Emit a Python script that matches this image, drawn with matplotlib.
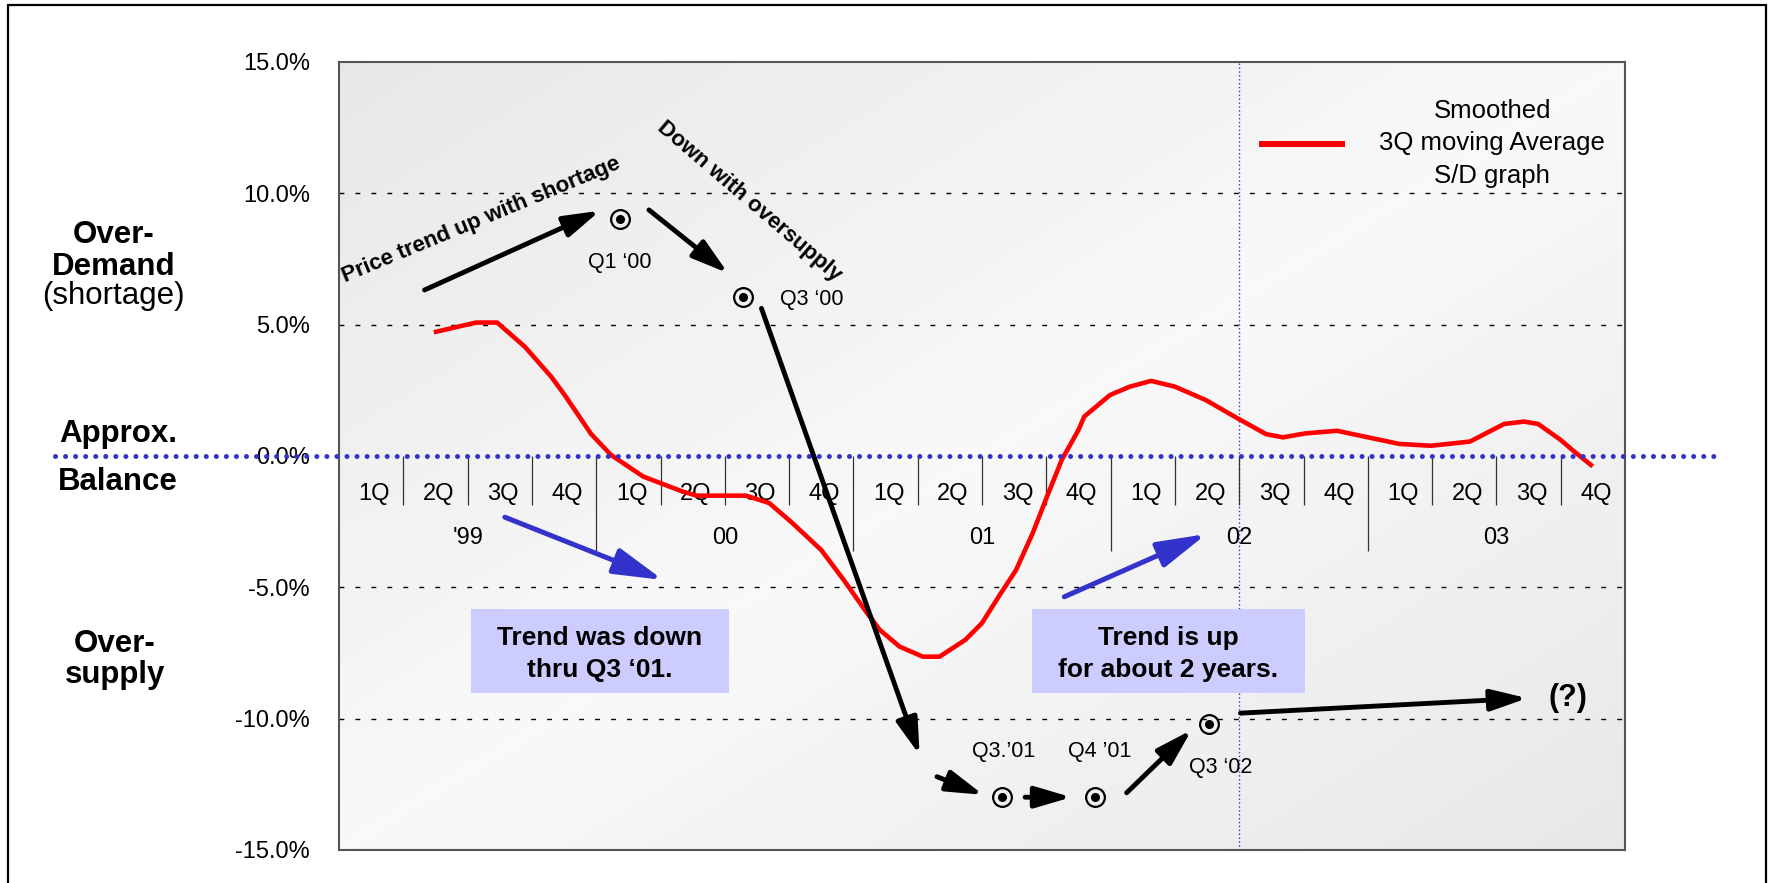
import numpy as np
import matplotlib
matplotlib.use("Agg")
import matplotlib.pyplot as plt
from matplotlib.patches import FancyArrowPatch, Rectangle
from matplotlib.lines import Line2D

plt.rcParams['font.family'] = ['Liberation Sans', 'DejaVu Sans']
NARROW = ['Liberation Sans Narrow', 'Liberation Sans', 'DejaVu Sans']

# smoothed 3Q moving average of the S/D balance (x in quarters from 1Q '99, y in %)
sd_x = [1.51, 2.13, 2.46, 2.89, 3.30, 3.51, 3.92, 4.23, 4.73, 5.35,
        5.57, 6.33, 6.69, 7.05, 7.50, 7.85, 8.21, 8.41, 8.72, 9.08,
        9.34, 9.74, 10.00, 10.26, 10.53, 10.79, 11.01, 11.24, 11.50, 11.59,
        11.99, 12.30, 12.63, 13.00, 13.48, 13.97, 14.42, 14.68, 15.03, 15.52,
        15.83, 16.49, 16.98, 17.59, 18.12, 18.43, 18.65, 19.00, 19.18, 19.47]
sd_y = [4.73, 5.08, 5.08, 4.16, 3.02, 2.32, 0.84, 0.04, -0.78, -1.36,
        -1.51, -1.51, -1.79, -2.55, -3.58, -4.72, -5.97, -6.62, -7.26, -7.64,
        -7.64, -7.00, -6.36, -5.35, -4.34, -2.93, -1.55, -0.15, 0.99, 1.50,
        2.32, 2.64, 2.86, 2.64, 2.13, 1.44, 0.83, 0.71, 0.86, 0.96,
        0.80, 0.46, 0.39, 0.55, 1.22, 1.31, 1.22, 0.61, 0.23, -0.34]

quarters = ['1Q', '2Q', '3Q', '4Q'] * 5
years = ["'99", "00", "01", "02", "03"]
y_ticks = [15, 10, 5, 0, -5, -10, -15]

# turning points of the price cycle
pt_x = [4.37, 6.29, 10.31, 11.76, 13.53]
pt_y = [9.02, 6.04, -13.0, -13.0, -10.2]
pt_labels = ["Q1 \u201800", "Q3 \u201800", "Q3.\u201901", "Q4 \u201901", "Q3 \u201802"]
pt_offsets = [(0, -35), (26, -5.5), (1, 29), (3, 29), (8.5, -35)]
pt_align = ['center', 'left', 'center', 'center', 'center']

black_arrows = [((1.33, 6.32), (4.06, 9.34)),
                ((4.82, 9.37), (6.05, 6.96)),
                ((6.57, 5.62), (9.03, -11.38)),
                ((9.30, -12.21), (10.02, -12.90)),
                ((10.67, -12.99), (11.39, -12.99)),
                ((12.25, -12.82), (13.26, -10.43)),
                ((14.02, -9.79), (18.48, -9.22))]
blue_arrows = [((2.58, -2.33), (5.04, -4.72)),
               ((11.28, -5.36), (13.49, -2.97))]

W, H = 1770, 883


def fx(px):
    return px / W


def fy(py):
    return 1 - py / H


fig = plt.figure(figsize=(17.7, 8.83), dpi=100)
ax = fig.add_axes([fx(339), fy(850), (1625 - 339) / W, (850 - 62) / H])
ax.set_xlim(0, 20)
ax.set_ylim(-15, 15)

# diagonal grey gradient behind the plot
u = np.linspace(0, 1, 400)[None, :]
v = np.linspace(0, 1, 250)[:, None]
t = (u + v) / 2
shade = 0.905 + 0.068 * (1 - np.abs(2 * t - 1))
ax.imshow(shade, cmap='gray', vmin=0, vmax=1, extent=[0, 20, -15, 15],
          aspect='auto', origin='upper', zorder=0, interpolation='bilinear')

for s in ax.spines.values():
    s.set_color('#555555')
    s.set_linewidth(1.5)

ax.hlines([10, 5, -5, -10], 0, 20, colors='black', linestyles=(0, (3.5, 8)), lw=1.0, zorder=1)
ax.axvline(14, color='#3333cc', lw=1.0, ls=(0, (1, 1.8)), zorder=1)

# quarter / year category axis hanging from the balance line
bounds = np.arange(1, 20)
ax.vlines([b for b in bounds if b % 4], -1.87, 0, colors='#333333', lw=0.9, zorder=1)
ax.vlines([b for b in bounds if b % 4 == 0], -3.63, 0, colors='#333333', lw=0.9, zorder=1)
for i, q in enumerate(quarters):
    ax.text(i + 0.55, -1.44, q, ha='center', va='center', fontsize=17, family=NARROW)
for i, yr in enumerate(years):
    ax.text(4 * i + 2, -3.13, yr, ha='center', va='center', fontsize=17, family=NARROW)

ax.set_xticks([])
ax.set_yticks(y_ticks)
ax.set_yticklabels([f"{val:.1f}%" for val in y_ticks], fontsize=17, family=NARROW)
ax.tick_params(axis='y', length=0, pad=21)

ax.plot(sd_x, sd_y, color='red', lw=3.3, zorder=3, solid_joinstyle='round')
ax.plot([-4.42, 21.43], [0, 0], color='#3333cc', lw=3.6, ls=(0, (0.01, 2.0)),
        dash_capstyle='round', clip_on=False, zorder=4)

# text boxes
for x0, x1, lines in [(2.05, 6.06, ["Trend was down", "thru Q3 \u201801."]),
                      (10.78, 15.02, ["Trend is up", "for about 2 years."])]:
    ax.add_patch(Rectangle((x0, -9.01), x1 - x0, 3.19, fc='#ccccff', ec='none', zorder=2))
    for k, line in enumerate(lines):
        ax.text((x0 + x1) / 2, [-7.19, -8.40][k], line, ha='center', va='baseline',
                fontsize=19, fontweight='bold', zorder=3)

for (a, b) in black_arrows:
    ax.add_patch(FancyArrowPatch(a, b, arrowstyle='-|>,head_length=2.2,head_width=0.65',
                                 mutation_scale=10, lw=3.5, color='black',
                                 shrinkA=0, shrinkB=0, zorder=5))
for (a, b) in blue_arrows:
    ax.add_patch(FancyArrowPatch(a, b, arrowstyle='-|>,head_length=3.0,head_width=0.8',
                                 mutation_scale=10, lw=3.6, color='#3333cc',
                                 shrinkA=0, shrinkB=0, zorder=5))

ax.plot(pt_x, pt_y, 'o', ms=13.5, mfc='none', mec='black', mew=1.6, zorder=6)
ax.plot(pt_x, pt_y, 'o', ms=5.5, color='black', zorder=6)
for x, y, lab, off, ha in zip(pt_x, pt_y, pt_labels, pt_offsets, pt_align):
    ax.annotate(lab, (x, y), xytext=off, textcoords='offset points',
                ha=ha, va='baseline', fontsize=15.5, zorder=6)

ax.text(2.21, 8.99, "Price trend up with shortage", rotation=22.5, ha='center', va='center',
        fontsize=16, fontweight='bold', rotation_mode='anchor', zorder=6)
ax.text(6.38, 9.69, "Down with oversupply", rotation=-40.5, ha='center', va='center',
        fontsize=16, fontweight='bold', rotation_mode='anchor', zorder=6)
ax.text(19.12, -9.22, "(?)", ha='center', va='center', fontsize=22, fontweight='bold', zorder=6)

handle = Line2D([], [], color='red', lw=4.3)
leg = ax.legend([handle], ["Smoothed\n3Q moving Average\nS/D graph"], loc='center',
                bbox_to_anchor=(0.8512, 0.897), frameon=False, fontsize=18.5,
                handlelength=3.1, handletextpad=1.45, borderpad=0, borderaxespad=0)
for txt in leg.get_texts():
    txt.set_multialignment('center')
    txt.set_linespacing(1.45)

# side captions
side = [("Over-", 114, 243, 'bold'), ("Demand", 114, 275, 'bold'), ("(shortage)", 113, 304, 'normal'),
        ("Approx.", 118, 442, 'bold'), ("Balance", 118, 490, 'bold'),
        ("Over-", 115, 652, 'bold'), ("supply", 115, 683, 'bold')]
for txt, x, y, wt in side:
    fig.text(fx(x), fy(y), txt, ha='center', va='baseline', fontsize=22.5, fontweight=wt)

fig.add_artist(Rectangle((fx(8), fy(900)), fx(1766) - fx(8), (900 - 5) / H,
                         transform=fig.transFigure, fill=False, ec='black', lw=1.6))

fig.savefig("out.png", dpi=100)
